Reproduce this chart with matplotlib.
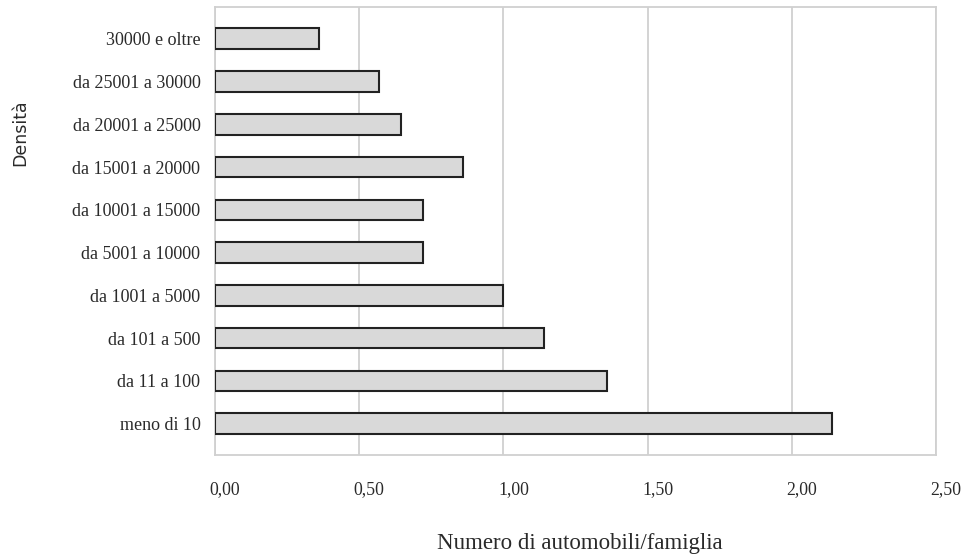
import matplotlib
matplotlib.use("Agg")
import matplotlib.pyplot as plt
from matplotlib.transforms import ScaledTranslation

categorie = [
    "meno di 10",
    "da 11 a 100",
    "da 101 a 500",
    "da 1001 a 5000",
    "da 5001 a 10000",
    "da 10001 a 15000",
    "da 15001 a 20000",
    "da 20001 a 25000",
    "da 25001 a 30000",
    "30000 e oltre",
]
auto_per_famiglia = [2.14, 1.36, 1.14, 1.00, 0.72, 0.72, 0.86, 0.645, 0.57, 0.36]
tick_valori = [0.0, 0.5, 1.0, 1.5, 2.0, 2.5]
tick_etichette = ["0,00", "0,50", "1,00", "1,50", "2,00", "2,50"]

plt.rcParams["font.family"] = ["Liberation Serif", "DejaVu Serif"]
text_color = "#2a2a2a"
grid_color = "#d0d0d0"

fig = plt.figure(figsize=(9.64, 5.58), dpi=100)
ax = fig.add_axes([215 / 964, 1 - 455 / 558, 721 / 964, 448 / 558])

y = list(range(len(categorie)))
ax.barh(y, auto_per_famiglia, height=0.48, color="#d9d9d9",
        edgecolor="#222222", linewidth=1.5, zorder=3)

ax.set_xlim(0, 2.5)
ax.set_ylim(-0.73, 9.74)
ax.set_xticks(tick_valori)
ax.set_xticklabels(tick_etichette)
ax.set_yticks(y)
ax.set_yticklabels(categorie)

ax.grid(axis="x", color=grid_color, linewidth=1.3, zorder=0)
for s in ax.spines.values():
    s.set_color(grid_color)
    s.set_linewidth(1.3)

ax.tick_params(axis="x", length=0, pad=19, labelsize=12.8, colors=text_color)
ax.tick_params(axis="y", length=0, pad=10.5, labelsize=13, colors=text_color)

# x tick labels sit slightly to the right of their gridlines
shift = ScaledTranslation(10 / 100, 0, fig.dpi_scale_trans)
for lab in ax.get_xticklabels():
    lab.set_transform(lab.get_transform() + shift)

fig.text(20 / 964, 1 - 133 / 558, "Densità", rotation=90,
         ha="center", va="center", fontsize=12.5, color=text_color,
         family=["DejaVu Sans"])
fig.text(580 / 964, 1 - 543 / 558, "Numero di automobili/famiglia",
         ha="center", va="center", fontsize=16.5, color=text_color)

fig.savefig("out.png", dpi=100)
